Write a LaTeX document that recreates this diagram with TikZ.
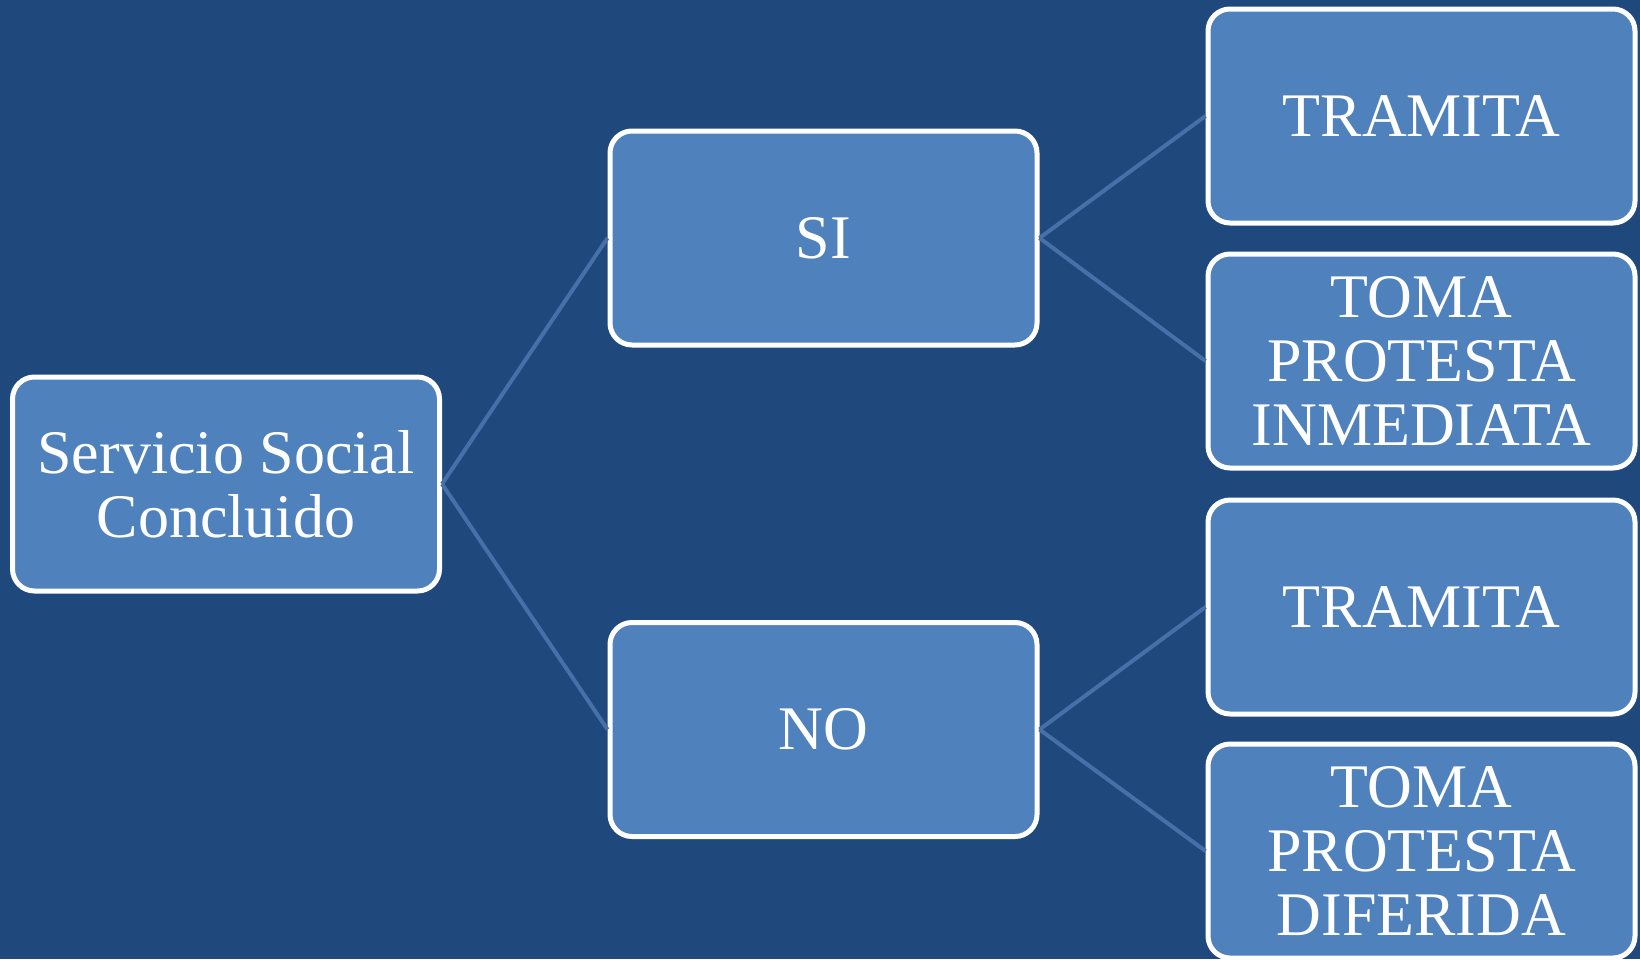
\documentclass[tikz,border=0pt]{standalone}
\usepackage{fontspec}
\setmainfont{Liberation Serif}
\definecolor{bgblue}{HTML}{1F497D}
\definecolor{boxblue}{HTML}{4F81BD}
\definecolor{linkblue}{HTML}{4670A8}
\begin{document}
\begin{tikzpicture}[x=1pt,y=-1pt,
  box/.style={draw=white, line width=5pt, fill=boxblue, rounded corners=22pt,
    minimum width=427pt, minimum height=214pt, inner sep=0pt, align=center,
    text=white, font=\fontsize{62}{64}\selectfont},
  link/.style={draw=linkblue, line width=4pt}]
\fill[bgblue] (0,0) rectangle (1640,959);
\useasboundingbox (0,0) rectangle (1640,959);
\node[box] (root) at (226,484) {Servicio Social\\Concluido};
\node[box] (si) at (823.5,238) {SI};
\node[box] (no) at (823.5,729.5) {NO};
\node[box] (r1) at (1421.5,116) {TRAMITA};
\node[box] (r2) at (1421.5,361) {TOMA\\PROTESTA\\INMEDIATA};
\node[box] (r3) at (1421.5,607) {TRAMITA};
\node[box] (r4) at (1421.5,851) {TOMA\\PROTESTA\\DIFERIDA};
\draw[link] (root.east) -- (si.west);
\draw[link] (root.east) -- (no.west);
\draw[link] (si.east) -- (r1.west);
\draw[link] (si.east) -- (r2.west);
\draw[link] (no.east) -- (r3.west);
\draw[link] (no.east) -- (r4.west);
\end{tikzpicture}
\end{document}
